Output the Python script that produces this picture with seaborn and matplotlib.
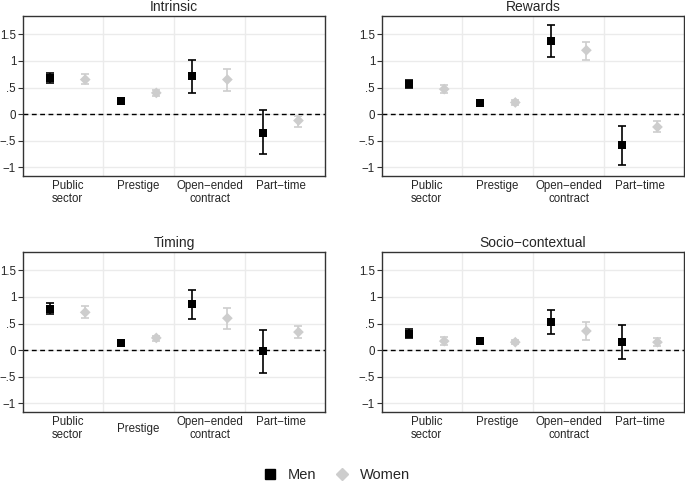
import numpy as np
import pandas as pd
import matplotlib.pyplot as plt
import seaborn as sns

# Data: point estimate and 95% CI (lower, upper)
categories = ['Public\nsector', 'Prestige', 'Open\u2212ended\ncontract', 'Part\u2212time']
panels = ['Intrinsic', 'Rewards', 'Timing', 'Socio\u2212contextual']
groups = ['Men', 'Women']

men_est = {
    'Intrinsic': [0.68, 0.24, 0.71, -0.35],
    'Rewards': [0.56, 0.21, 1.38, -0.58],
    'Timing': [0.78, 0.13, 0.86, -0.01],
    'Socio\u2212contextual': [0.31, 0.17, 0.53, 0.15],
}
men_lo = {
    'Intrinsic': [0.58, 0.21, 0.40, -0.75],
    'Rewards': [0.50, 0.17, 1.08, -0.95],
    'Timing': [0.68, 0.10, 0.58, -0.42],
    'Socio\u2212contextual': [0.22, 0.14, 0.31, -0.16],
}
men_hi = {
    'Intrinsic': [0.78, 0.27, 1.02, 0.07],
    'Rewards': [0.64, 0.24, 1.67, -0.23],
    'Timing': [0.89, 0.16, 1.13, 0.38],
    'Socio\u2212contextual': [0.40, 0.20, 0.75, 0.48],
}
women_est = {
    'Intrinsic': [0.65, 0.40, 0.65, -0.12],
    'Rewards': [0.47, 0.22, 1.20, -0.24],
    'Timing': [0.71, 0.23, 0.60, 0.34],
    'Socio\u2212contextual': [0.17, 0.15, 0.36, 0.15],
}
women_lo = {
    'Intrinsic': [0.56, 0.34, 0.44, -0.24],
    'Rewards': [0.39, 0.18, 1.01, -0.34],
    'Timing': [0.60, 0.18, 0.40, 0.23],
    'Socio\u2212contextual': [0.09, 0.11, 0.19, 0.07],
}
women_hi = {
    'Intrinsic': [0.75, 0.46, 0.85, -0.03],
    'Rewards': [0.54, 0.26, 1.36, -0.13],
    'Timing': [0.83, 0.27, 0.80, 0.46],
    'Socio\u2212contextual': [0.25, 0.19, 0.53, 0.23],
}

yticks = [-1, -0.5, 0, 0.5, 1, 1.5]
ytick_labels = ['\u22121', '\u2212.5', '0', '.5', '1', '1.5']

# Build long table
rows = []
for p in panels:
    for i, c in enumerate(categories):
        rows.append(dict(panel=p, cat=c, group='Men', x=2 * i + 1,
                         est=men_est[p][i], lo=men_lo[p][i], hi=men_hi[p][i]))
        rows.append(dict(panel=p, cat=c, group='Women', x=2 * i + 2,
                         est=women_est[p][i], lo=women_lo[p][i], hi=women_hi[p][i]))
df = pd.DataFrame(rows)

sns.set_style('white')
plt.rcParams['font.family'] = ['Liberation Sans', 'DejaVu Sans']

colors = {'Men': 'black', 'Women': '#cdcdcd'}
markers = {'Men': 's', 'Women': 'D'}
sizes = {'Men': 34, 'Women': 30}

fig = plt.figure(figsize=(6.85, 4.83), dpi=100)
lefts = [0.0336, 0.5577]
bottoms = [0.6356, 0.147]
w, h = 0.441, 0.331

for k, p in enumerate(panels):
    ax = fig.add_axes([lefts[k % 2], bottoms[k // 2], w, h])
    sub = df[df.panel == p]

    # grid
    for gx in [2.5, 4.5, 6.5]:
        ax.axvline(gx, color='#ebebeb', lw=1, zorder=0)
    for gy in yticks:
        ax.axhline(gy, color='#ebebeb', lw=1, zorder=0)
    ax.axhline(0, color='black', lw=1, ls=(0, (3.5, 2.5)), zorder=1)

    for g in groups:
        s = sub[sub.group == g]
        ax.errorbar(s.x, s.est, yerr=[s.est - s.lo, s.hi - s.est], fmt='none',
                    ecolor=colors[g], elinewidth=1.2, capsize=2.8, capthick=1.2, zorder=2)
    sns.scatterplot(data=sub, x='x', y='est', hue='group', style='group',
                    palette=colors, markers=markers, size='group', sizes=sizes,
                    edgecolor='none', linewidth=0, legend=False, ax=ax, zorder=3)

    ax.set_xlim(0.25, 8.75)
    ax.set_ylim(-1.16, 1.84)
    ax.set_xticks([1.5, 3.5, 5.5, 7.5])
    ax.set_xticklabels(categories, fontsize=8.3, linespacing=1.05)
    ax.set_yticks(yticks)
    ax.set_yticklabels(ytick_labels, fontsize=8.3)
    ax.tick_params(axis='y', length=3.5, width=0.8, pad=1.5, left=True, color='#333333')
    ax.tick_params(axis='x', length=0, pad=3)
    ax.set_xlabel('')
    ax.set_ylabel('')
    ax.set_title(p, fontsize=10, pad=4)
    for sp in ax.spines.values():
        sp.set_color('#333333')
        sp.set_linewidth(1)

    if p == 'Timing':
        # odd little tick and lowered label under "Prestige"
        ax.set_xticks([3.5], minor=True)
        ax.tick_params(axis='x', which='minor', length=3.5, width=0.8,
                       bottom=True, color='#333333')
        ax.xaxis.get_major_ticks()[1].set_pad(8)

# Legend
handles = [plt.Line2D([], [], ls='none', marker=markers[g], color=colors[g],
                      markersize=6.6 if g == 'Men' else 6.2) for g in groups]
fig.legend(handles, groups, loc='lower center', bbox_to_anchor=(0.49, -0.025),
           ncol=2, frameon=False, fontsize=10.5, handlelength=1.2,
           handletextpad=0.6, columnspacing=1.2)

fig.savefig('out.png', dpi=100)
